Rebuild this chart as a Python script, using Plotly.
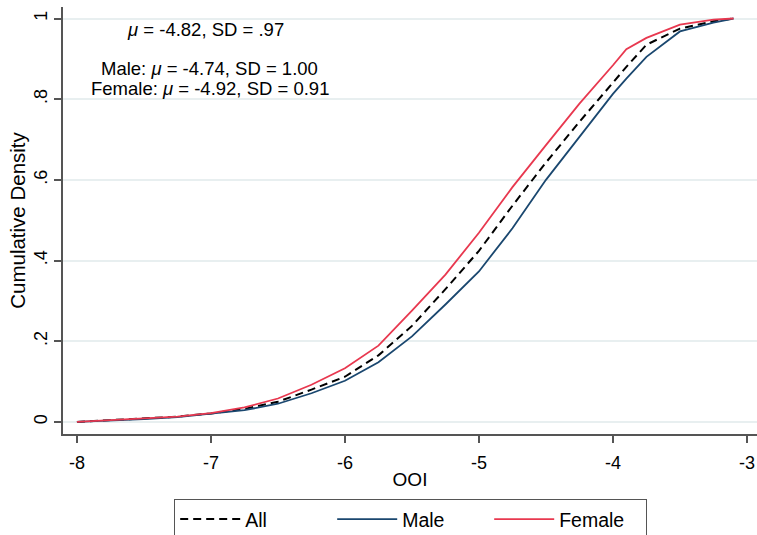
import plotly.graph_objects as go

x_grid = [-8.0, -7.75, -7.5, -7.25, -7.0, -6.75, -6.5, -6.25, -6.0, -5.75, -5.5, -5.25,
          -5.0, -4.75, -4.5, -4.25, -4.0, -3.9, -3.75, -3.5, -3.25, -3.1]

cdf_all = [0.0, 0.004, 0.008, 0.013, 0.021, 0.032, 0.050, 0.080, 0.112, 0.165, 0.238, 0.329,
           0.424, 0.536, 0.643, 0.744, 0.841, 0.880, 0.935, 0.975, 0.993, 1.0]
cdf_male = [0.0, 0.003, 0.007, 0.012, 0.020, 0.029, 0.045, 0.071, 0.102, 0.148, 0.212, 0.291,
            0.373, 0.480, 0.600, 0.708, 0.813, 0.851, 0.905, 0.968, 0.990, 1.0]
cdf_female = [0.0, 0.004, 0.008, 0.013, 0.022, 0.036, 0.058, 0.092, 0.133, 0.189, 0.276, 0.365,
              0.469, 0.582, 0.686, 0.789, 0.884, 0.924, 0.952, 0.985, 0.997, 1.0]

x_ticks = [-8, -7, -6, -5, -4, -3]
x_tick_labels = ["-8", "-7", "-6", "-5", "-4", "-3"]
y_ticks = [0, 0.2, 0.4, 0.6, 0.8, 1.0]
y_tick_labels = ["0", ".2", ".4", ".6", ".8", "1"]

FONT = "Liberation Sans, Arial, sans-serif"
NAVY = "#1a476f"
RED = "#e8384f"
AXIS = "#555555"

fig = go.Figure()
fig.add_trace(go.Scatter(x=x_grid, y=cdf_all, mode="lines", name="All",
                         line=dict(color="black", width=2, dash="8px,5px")))
fig.add_trace(go.Scatter(x=x_grid, y=cdf_male, mode="lines", name="Male",
                         line=dict(color=NAVY, width=1.8)))
fig.add_trace(go.Scatter(x=x_grid, y=cdf_female, mode="lines", name="Female",
                         line=dict(color=RED, width=1.8)))

annots = [
    ("<i>μ</i> = -4.82, SD = .97", -7.04, 0.972, 18.5),
    ("Male: <i>μ</i> = -4.74, SD = 1.00", -7.01, 0.876, 18.5),
    ("Female: <i>μ</i> = -4.92, SD = 0.91", -7.01, 0.826, 18.5),
]
for txt, ax, ay, fs in annots:
    fig.add_annotation(x=ax, y=ay, xref="x", yref="y", text=txt, showarrow=False,
                       xanchor="center", yanchor="middle",
                       font=dict(family=FONT, size=fs, color="black"))

fig.update_layout(
    width=757, height=535,
    margin=dict(l=63, r=0, t=7, b=101, autoexpand=False),
    paper_bgcolor="white", plot_bgcolor="white",
    font=dict(family=FONT, size=18, color="black"),
    showlegend=True,
    legend=dict(orientation="h", x=0.501, xanchor="center", y=-0.152, yanchor="top",
                bordercolor=AXIS, borderwidth=1, bgcolor="white",
                font=dict(family=FONT, size=19.5, color="black"),
                entrywidth=82, itemwidth=60, traceorder="normal"),
)
fig.update_xaxes(
    range=[-8.104, -2.925], tickvals=x_ticks, ticktext=x_tick_labels,
    showline=True, linecolor=AXIS, linewidth=1.5, mirror=False,
    ticks="outside", ticklen=7, tickcolor=AXIS, tickwidth=1.5,
    showgrid=False, zeroline=False, automargin=False, ticklabelstandoff=5,
    tickfont=dict(family=FONT, size=18),
    title=dict(text="OOI", font=dict(family=FONT, size=19), standoff=0),
)
fig.update_yaxes(
    range=[-0.03, 1.0285], tickvals=y_ticks, ticktext=y_tick_labels,
    showline=True, linecolor=AXIS, linewidth=1.5, mirror=False,
    ticks="outside", ticklen=7, tickcolor=AXIS, tickwidth=1.5,
    showgrid=True, gridcolor="#e8eff0", gridwidth=1.5, zeroline=False, automargin=False,
    tickangle=-90,
    tickfont=dict(family=FONT, size=18),
    title=dict(text="Cumulative Density", font=dict(family=FONT, size=20.5), standoff=0),
)

fig.write_html("out.html", config={"displayModeBar": False},
               post_script="document.body.style.margin='0';")
